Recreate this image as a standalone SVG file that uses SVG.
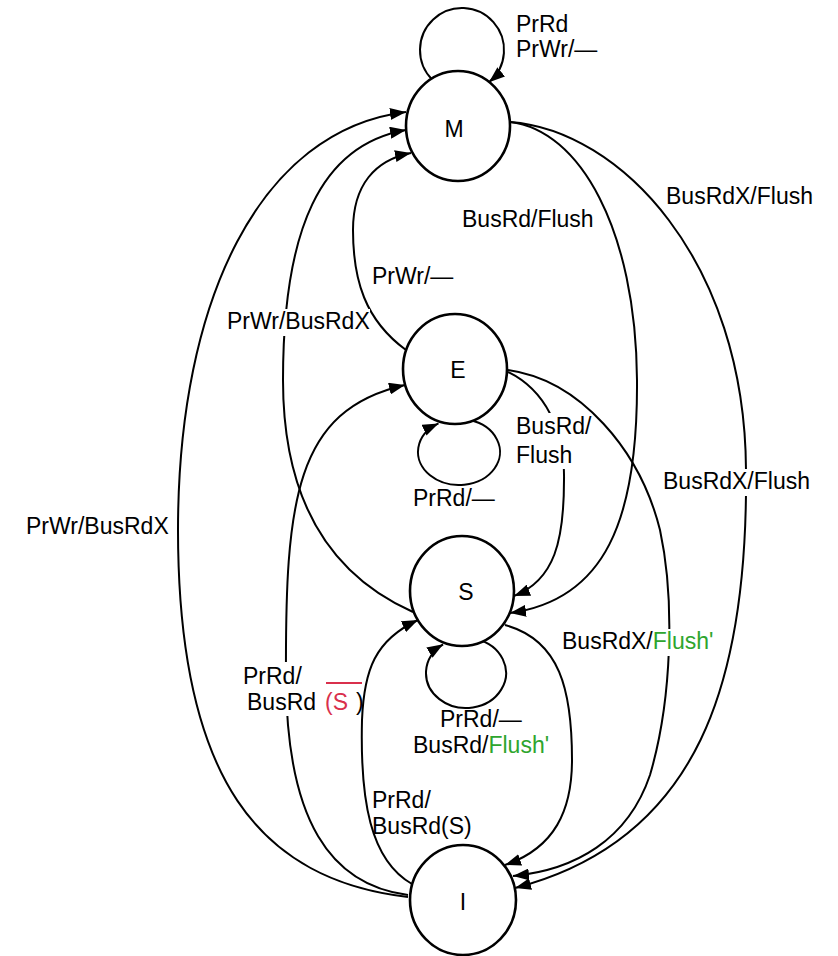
<svg xmlns="http://www.w3.org/2000/svg" width="838" height="956" viewBox="0 0 838 956">
  <style>
    .edge{fill:none;stroke:#000;stroke-width:2;marker-end:url(#arrow)}
    .state{fill:#fff;stroke:#000;stroke-width:2.6}
    .name{font-family:'Liberation Sans',Arial,sans-serif;font-size:23px;text-anchor:middle;fill:#000}
    .lbl{font-family:'Liberation Sans',Arial,sans-serif;font-size:23px;fill:#000}
    .g{fill:#2ea52e}
    .r{fill:#d9304c}
    .bg{fill:#fff}
  </style>
  <defs>
    <marker id="arrow" markerWidth="16" markerHeight="12" refX="16" refY="6" orient="auto" markerUnits="userSpaceOnUse">
      <path d="M0,0 L16,6 L0,12 z" fill="#000"/>
    </marker>
  </defs>

  <rect width="838" height="956" fill="#fff"/>

  <!-- transitions -->
  <g id="connectors">
    <!-- self loops -->
    <path class="edge" d="M432.3,79.7 A42,42 0 1 1 489,82.2"/>
    <path class="edge" d="M469.6,420.1 A41,33 0 1 1 438.5,423.4"/>
    <path class="edge" d="M476.4,639.2 A40,35 0 1 1 443.1,644.3"/>

    <!-- I -> M : PrWr/BusRdX (outer left) -->
    <path class="edge" d="M408,897 C260,880 178,780 178,530 C178,300 260,130 406,112"/>
    <!-- S -> M : PrWr/BusRdX -->
    <path class="edge" d="M413,612 C330,575 283,500 283,380 C283,230 320,145 406,130"/>
    <!-- E -> M : PrWr/- -->
    <path class="edge" d="M406,350 C365,320 353,280 353,230 C353,185 375,160 411,153"/>
    <!-- I -> E : PrRd/BusRd(S') -->
    <path class="edge" d="M408,895 C330,885 287,820 286,680 C285,500 295,410 405,385"/>
    <!-- I -> S : PrRd/BusRd(S) -->
    <path class="edge" d="M412,884 C370,860 360,800 362,720 C364,670 375,640 418,620"/>
    <!-- M -> S : BusRd/Flush -->
    <path class="edge" d="M510,122 C580,130 636,230 637,380 C638,520 605,600 510,613"/>
    <!-- E -> S : BusRd/Flush -->
    <path class="edge" d="M508,372 C545,390 565,430 564,480 C564,540 555,580 514,596"/>
    <!-- E -> I : BusRdX/Flush -->
    <path class="edge" d="M508,370 C580,380 640,450 660,530 C675,600 672,700 650,775 C628,840 575,870 513,876"/>
    <!-- M -> I : BusRdX/Flush (outer right) -->
    <path class="edge" d="M510,122 C620,130 745,260 746,470 C748,680 700,840 515,888"/>
    <!-- S -> I : BusRdX/Flush' -->
    <path class="edge" d="M505,625 C560,640 572,690 572,760 C572,810 555,848 505,865"/>
  </g>

  <!-- transition labels -->
  <g id="labels">
    <text class="lbl" x="516" y="32">PrRd</text>
    <text class="lbl" x="516" y="57">PrWr/—</text>

    <text class="lbl" x="462" y="227">BusRd/Flush</text>
    <text class="lbl" x="666" y="204">BusRdX/Flush</text>

    <text class="lbl" x="372" y="284">PrWr/—</text>

    <rect class="bg" x="224" y="309" width="146" height="27"/>
    <text class="lbl" x="227" y="329">PrWr/BusRdX</text>

    <rect class="bg" x="513" y="413" width="76" height="56"/>
    <text class="lbl" x="516" y="434">BusRd/</text>
    <text class="lbl" x="516" y="463">Flush</text>

    <text class="lbl" x="413" y="506">PrRd/—</text>

    <rect class="bg" x="660" y="469" width="162" height="27"/>
    <text class="lbl" x="663" y="489">BusRdX/Flush</text>

    <text class="lbl" x="26" y="534">PrWr/BusRdX</text>

    <rect class="bg" x="559" y="629" width="166" height="27"/>
    <text class="lbl" x="562" y="649">BusRdX/<tspan class="g">Flush'</tspan></text>

    <rect class="bg" x="240" y="662" width="82" height="54"/>
    <text class="lbl" x="243" y="684">PrRd/</text>
    <text class="lbl" x="247" y="710">BusRd</text>
    <text class="lbl r" x="325" y="710">(S</text>
    <line x1="326" y1="683" x2="362" y2="683" stroke="#d9304c" stroke-width="2"/>
    <text class="lbl" x="356" y="710">)</text>

    <text class="lbl" x="440" y="727">PrRd/—</text>
    <text class="lbl" x="413" y="753">BusRd/<tspan class="g">Flush'</tspan></text>

    <text class="lbl" x="372" y="808">PrRd/</text>
    <text class="lbl" x="372" y="834">BusRd(S)</text>
  </g>

  <!-- states -->
  <g id="state-M">
    <ellipse class="state" cx="458" cy="126" rx="52" ry="55"/>
    <text class="name" x="454" y="137">M</text>
  </g>
  <g id="state-E">
    <ellipse class="state" cx="455" cy="369" rx="52" ry="55"/>
    <text class="name" x="458" y="378">E</text>
  </g>
  <g id="state-S">
    <ellipse class="state" cx="462" cy="591" rx="52" ry="55"/>
    <text class="name" x="466" y="600">S</text>
  </g>
  <g id="state-I">
    <ellipse class="state" cx="463" cy="900" rx="53" ry="55"/>
    <text class="name" x="463" y="910">I</text>
  </g>
</svg>
